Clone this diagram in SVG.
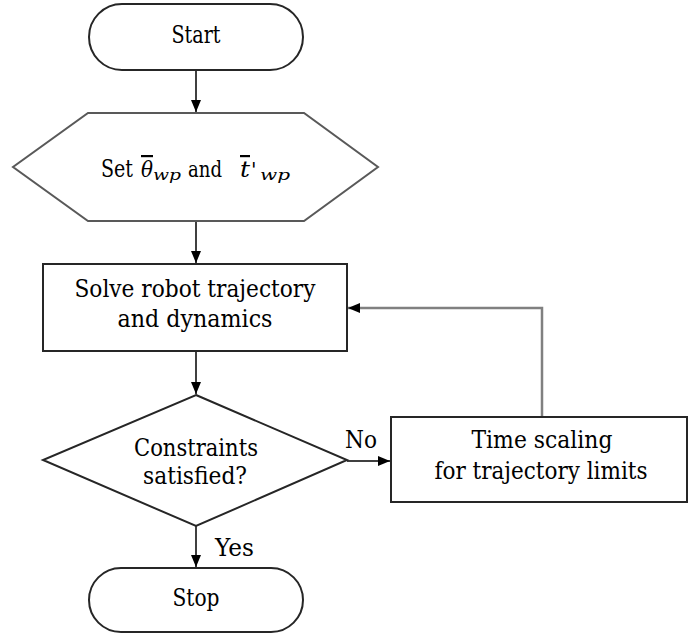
<svg xmlns="http://www.w3.org/2000/svg" width="689" height="634" viewBox="0 0 689 634">
<defs>
<marker id="ah" viewBox="0 0 12 12" refX="12" refY="6" markerWidth="12" markerHeight="12" markerUnits="userSpaceOnUse" orient="auto">
<path d="M0,1 L12,6 L0,11 Z" fill="#000"/>
</marker>
</defs>
<style>
.shape{fill:#fff;stroke:#262626;stroke-width:2}
.conn{fill:none;stroke:#404040;stroke-width:2;marker-end:url(#ah)}
.fb{fill:none;stroke:#808080;stroke-width:2.5;marker-end:url(#ah)}
.t{font-family:"DejaVu Serif","Liberation Serif",serif;font-size:24px;fill:#000;text-anchor:middle}
.l{font-family:"DejaVu Serif","Liberation Serif",serif;font-size:24px;fill:#000}
.m{font-family:"DejaVu Serif","Liberation Serif",serif;fill:#000}
</style>
<rect width="689" height="634" fill="#fff"/>
<g id="connectors">
<line class="conn" x1="196" y1="70" x2="196" y2="112"/>
<line class="conn" x1="196" y1="221" x2="196" y2="263"/>
<line class="conn" x1="196" y1="351" x2="196" y2="394"/>
<line class="conn" x1="196" y1="526" x2="196" y2="567"/>
<line class="conn" x1="347" y1="461" x2="390" y2="461"/>
<polyline class="fb" points="542,417 542,308 348,308"/>
<text class="l" x="345" y="448" textLength="32" lengthAdjust="spacingAndGlyphs">No</text>
<text class="l" x="215" y="556" textLength="39" lengthAdjust="spacingAndGlyphs">Yes</text>
</g>
<g id="start">
<rect class="shape" x="89" y="4" width="214" height="66" rx="33" ry="33"/>
<text class="t" x="196" y="43" textLength="49" lengthAdjust="spacingAndGlyphs">Start</text>
</g>
<g id="set">
<polygon class="shape" points="88,113 304,113 378,167 304,221 88,221 13,167" style="stroke:#595959"/>
<text class="m" y="177" font-size="22"><tspan x="101" font-size="24" textLength="32" lengthAdjust="spacingAndGlyphs">Set</tspan><tspan x="141" font-style="italic" text-decoration="overline" textLength="12" lengthAdjust="spacingAndGlyphs">θ</tspan><tspan x="153" y="180" font-size="15" font-style="italic" textLength="28" lengthAdjust="spacingAndGlyphs">wp</tspan><tspan x="188" y="177" font-size="23" textLength="34" lengthAdjust="spacingAndGlyphs">and</tspan><tspan x="240" font-style="italic" text-decoration="overline" textLength="10" lengthAdjust="spacingAndGlyphs">t</tspan><tspan x="251" font-size="20">'</tspan><tspan x="260" y="180" font-size="15" font-style="italic" textLength="30" lengthAdjust="spacingAndGlyphs">wp</tspan></text>
</g>
<g id="solve">
<rect class="shape" x="43" y="264" width="304" height="87"/>
<text class="t" x="195" y="297" textLength="241" lengthAdjust="spacingAndGlyphs">Solve robot trajectory</text>
<text class="t" x="195" y="327" textLength="155" lengthAdjust="spacingAndGlyphs">and dynamics</text>
</g>
<g id="constraints">
<polygon class="shape" points="196,395 347,460 196,526 43,460"/>
<text class="t" x="196" y="456" textLength="124" lengthAdjust="spacingAndGlyphs">Constraints</text>
<text class="t" x="195" y="484" textLength="104" lengthAdjust="spacingAndGlyphs">satisfied?</text>
</g>
<g id="timescaling">
<rect class="shape" x="391" y="417" width="296" height="85"/>
<text class="t" x="542" y="448" textLength="141" lengthAdjust="spacingAndGlyphs">Time scaling</text>
<text class="t" x="541" y="479" textLength="213" lengthAdjust="spacingAndGlyphs">for trajectory limits</text>
</g>
<g id="stop">
<rect class="shape" x="89" y="568" width="214" height="64" rx="32" ry="32"/>
<text class="t" x="196" y="606" textLength="47" lengthAdjust="spacingAndGlyphs">Stop</text>
</g>
</svg>
